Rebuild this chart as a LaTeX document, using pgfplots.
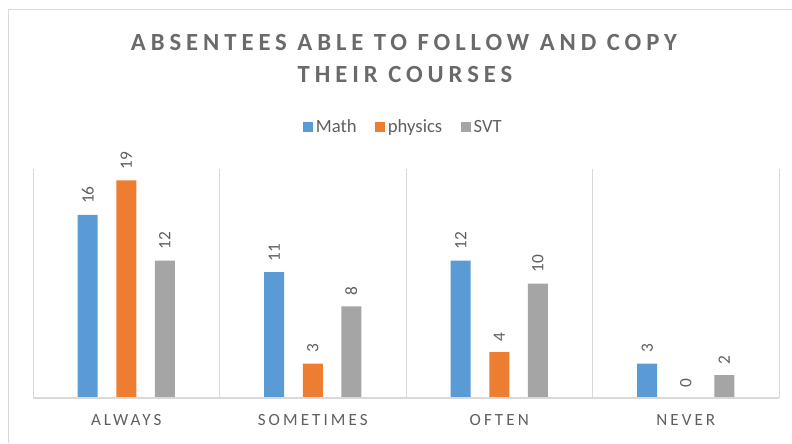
\documentclass[border=0pt]{standalone}
\usepackage{fontspec}
\setmainfont{Carlito}
\newfontfamily\titlefont{Carlito}[LetterSpace=20]
\newfontfamily\catfont{Carlito}[LetterSpace=18]
\usepackage{pgfplots}
\pgfplotsset{compat=1.18}
\definecolor{cMath}{HTML}{5B9BD5}
\definecolor{cPhys}{HTML}{ED7D31}
\definecolor{cSVT}{HTML}{A5A5A5}
\definecolor{gridc}{HTML}{D9D9D9}
\definecolor{txt}{HTML}{5F5F5F}
\definecolor{ttl}{HTML}{6A6A6A}
\begin{document}
\begin{tikzpicture}[x=0.75pt,y=0.75pt]
\path[use as bounding box] (0,0) rectangle (792,443);
\draw[gridc, line width=0.75pt] (8.5,0) -- (8.5,433.5) -- (792,433.5);
\node[anchor=base, font=\titlefont\bfseries\fontsize{18.5}{21}\selectfont, text=ttl, inner sep=0pt] at (404,392) {ABSENTEES ABLE TO FOLLOW AND COPY};
\node[anchor=base, font=\titlefont\bfseries\fontsize{18.5}{21}\selectfont, text=ttl, inner sep=0pt] at (405,360) {THEIR COURSES};
\begin{axis}[
  at={(24.75pt,33.75pt)}, anchor=south west,
  scale only axis, width=559.5pt, height=171.75pt,
  /pgf/number format/assume math mode=true,
  ybar=13.9pt, bar width=15pt,
  ymin=0, ymax=20, xmin=-0.5, xmax=3.5,
  axis on top,
  axis x line*=bottom, axis y line=none,
  x axis line style={gridc, line width=0.9pt},
  ytick=\empty,
  xtick={0,1,2,3}, xticklabels={ALWAYS,SOMETIMES,OFTEN,NEVER},
  major tick length=0pt, minor tick length=0pt,
  minor xtick={-0.5,0.5,1.5,2.5,3.5}, xminorgrids,
  minor grid style={gridc, line width=0.75pt},
  xticklabel style={font=\catfont\fontsize{12.8}{14}\selectfont, text=txt, yshift=-9pt},
  clip=false,
  nodes near coords,
  every node near coord/.append style={rotate=90, anchor=west, font=\fontsize{13}{15}\selectfont, text=txt, inner xsep=8pt},
  legend style={at={(0.497,1.183)}, anchor=center, draw=none, fill=none, legend columns=3,
    font=\fontsize{14}{16}\selectfont, text=txt,
    /tikz/every even column/.append style={column sep=12pt}},
  legend image code/.code={\fill[#1] (0pt,-3.75pt) rectangle (7.5pt,3.75pt);},
]
\addplot[fill=cMath, draw=none] coordinates {(0,16) (1,11) (2,12) (3,3)};
\addplot[fill=cPhys, draw=none] coordinates {(0,19) (1,3) (2,4) (3,0)};
\addplot[fill=cSVT, draw=none] coordinates {(0,12) (1,8) (2,10) (3,2)};
\legend{Math,physics,SVT}
\end{axis}
\end{tikzpicture}
\end{document}
